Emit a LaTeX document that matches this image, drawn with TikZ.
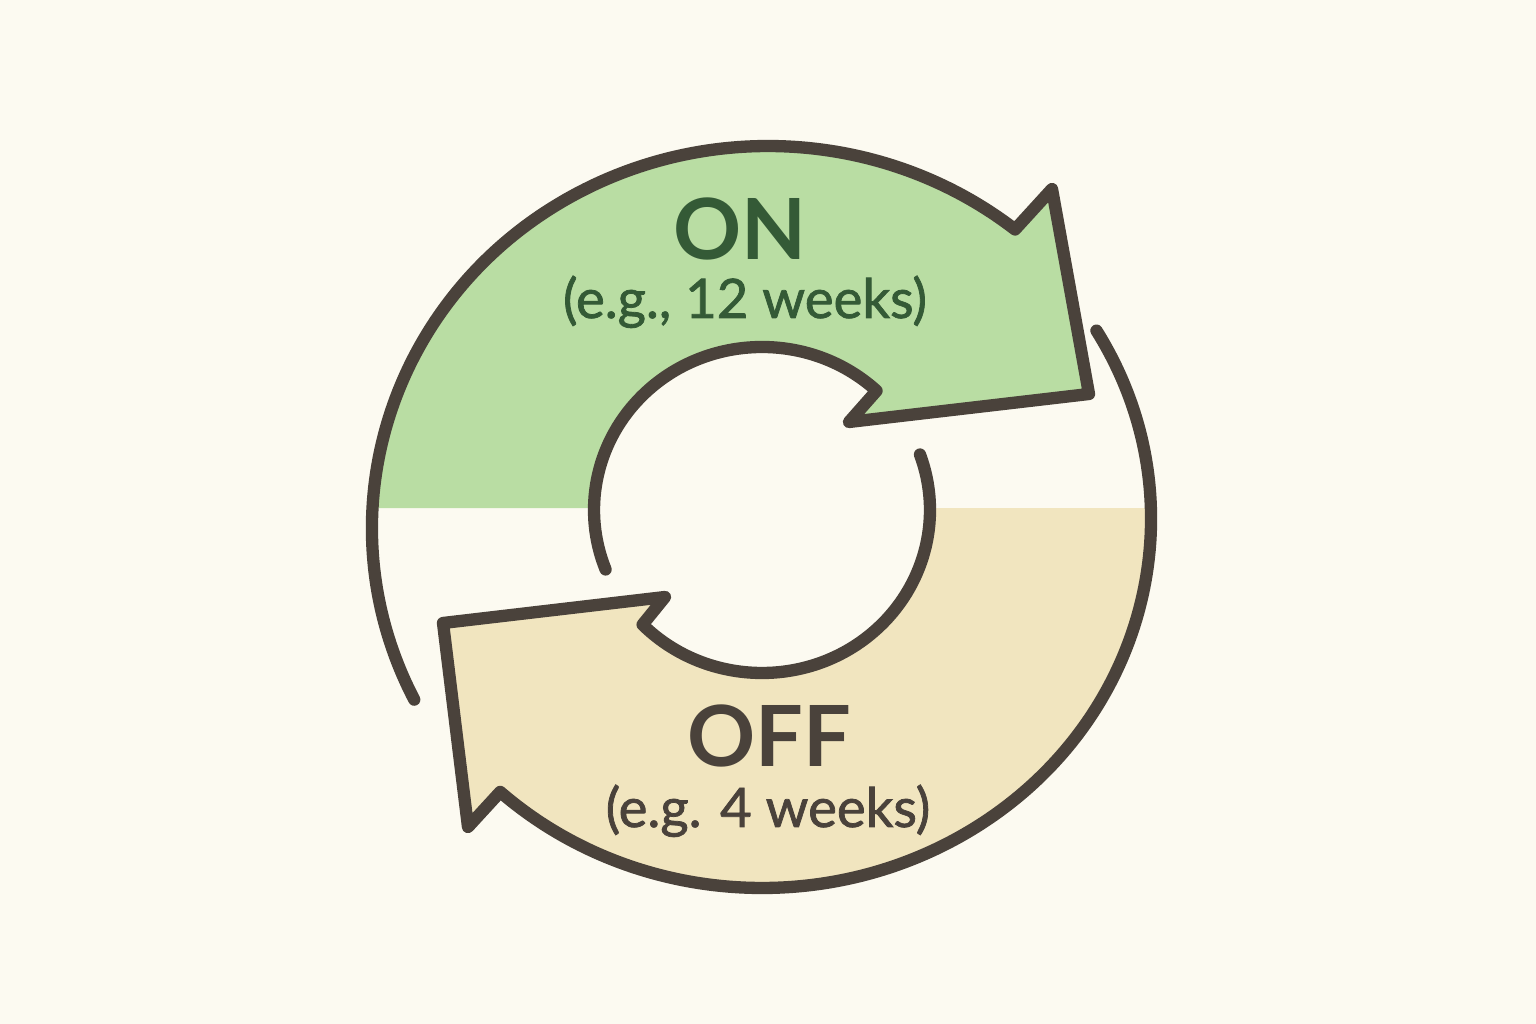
\documentclass[tikz,border=0pt]{standalone}
\usepackage{fontspec}
\setmainfont{Lato}
\newfontfamily\notefont{Lato}[FakeBold=1.4]
\usetikzlibrary{calc}
\definecolor{bgcream}{HTML}{FCFAF1}
\definecolor{ongreen}{HTML}{B9DDA3}
\definecolor{offbeige}{HTML}{F1E5BF}
\definecolor{ringdark}{HTML}{4A423B}
\definecolor{ondark}{HTML}{345A36}
\begin{document}
\begin{tikzpicture}[x=0.01cm,y=0.01cm,
ringline/.style={draw=ringdark,line width=3.5pt,line cap=round,line join=round},
bigword/.style={anchor=base,inner sep=0pt,font=\fontsize{24}{28}\selectfont\bfseries},
smallword/.style={anchor=base,inner sep=0pt,font=\fontsize{15.5}{18}\notefont}]
\fill[bgcream] (0,0) rectangle (1536,1024);
\useasboundingbox (0,0) rectangle (1536,1024);
\coordinate (topc) at (768,496);  % centre of the ON arc
\coordinate (oc) at (762,505);    % centre of the OFF arc
\coordinate (ic) at (762,514);    % centre of the hole
% arrow corners
\coordinate (onbarb) at (1052,835);
\coordinate (ontip) at (1089,630);
\coordinate (oninner) at (849,602);
\coordinate (offbarb) at (468,197);
\coordinate (offtip) at (443,401);
\coordinate (offinner) at (665,427);
% fills
\fill[ongreen] ($(topc)+(177:396 and 382)$) arc[start angle=177,end angle=51.4,x radius=396,y radius=382]
  -- (onbarb) -- (ontip) -- (oninner) -- ($(ic)+(47:168 and 163)$)
  arc[start angle=47,end angle=179.3,x radius=168,y radius=163] -- cycle;
\fill[offbeige] ($(oc)+(1.7:389 and 369)$) arc[start angle=1.7,end angle=-132.3,x radius=389,y radius=369]
  -- (offbarb) -- (offtip) -- (offinner) -- ($(ic)+(224.7:168 and 163)$)
  arc[start angle=224.7,end angle=360.7,x radius=168,y radius=163] -- cycle;
% outlines
\draw[ringline] ($(topc)+(206.7:396 and 382)$) arc[start angle=206.7,end angle=51.4,x radius=396,y radius=382]
  -- (onbarb) -- (ontip) -- (oninner) -- ($(ic)+(47:168 and 163)$)
  arc[start angle=47,end angle=201.4,x radius=168,y radius=163];
\draw[ringline] ($(oc)+(30.7:389 and 369)$) arc[start angle=30.7,end angle=-132.3,x radius=389,y radius=369]
  -- (offbarb) -- (offtip) -- (offinner) -- ($(ic)+(224.7:168 and 163)$)
  arc[start angle=224.7,end angle=379.9,x radius=168,y radius=163];
% labels
\node[bigword,text=ondark] (ontitle) at (740,764) {ON};
\node[smallword,text=ondark] (onnote) at (745,706) {(e.g., 12 weeks)};
\node[bigword,text=ringdark] (offtitle) at (769,257) {OFF};
\node[smallword,text=ringdark] (offnote) at (768,197) {(e.g. 4 weeks)};
\end{tikzpicture}
\end{document}
